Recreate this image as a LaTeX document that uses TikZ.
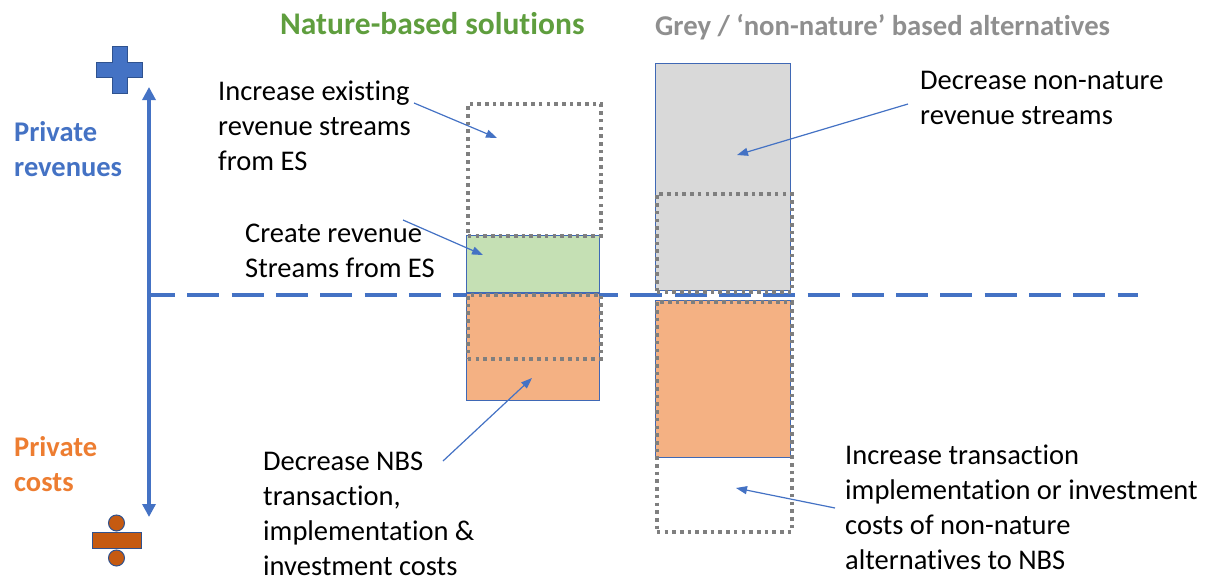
\documentclass[tikz,border=0pt]{standalone}
\usepackage{fontspec}
\setmainfont{Carlito}[Ligatures=NoCommon]
\usetikzlibrary{arrows.meta}
\definecolor{axisblue}{HTML}{4472C4}
\definecolor{edgeblue}{HTML}{3F68B5}
\definecolor{darkedge}{HTML}{2F528F}
\definecolor{nbsgreen}{HTML}{C5E0B4}
\definecolor{costorange}{HTML}{F4B183}
\definecolor{greyfill}{HTML}{D9D9D9}
\definecolor{dotgrey}{HTML}{7F7F7F}
\definecolor{headgreen}{HTML}{5F9E3E}
\definecolor{headgrey}{HTML}{8F8F8F}
\definecolor{revblue}{HTML}{4472C4}
\definecolor{costtext}{HTML}{ED7D31}
\definecolor{divfill}{HTML}{C55A11}
\tikzset{
  lbl/.style={anchor=north west, inner sep=0pt, align=left, font=\fontsize{28.5}{35}\selectfont, text=black},
  head/.style={anchor=north west, inner sep=0pt, font=\fontsize{31.5}{38}\selectfont\bfseries},
  side/.style={anchor=north west, inner sep=0pt, align=left, font=\fontsize{28.5}{35}\selectfont\bfseries},
  solidbox/.style={draw=edgeblue, line width=1.3pt},
  dotbox/.style={draw=dotgrey, line width=3.6pt, dash pattern=on 3.6pt off 4.1pt},
  pointer/.style={draw=axisblue, line width=1.2pt, -{Triangle[length=11pt,width=8pt]}},
  axis/.style={draw=axisblue, line width=3.8pt, {Triangle[length=13pt,width=13pt]}-{Triangle[length=13pt,width=13pt]}},
  zeroline/.style={draw=axisblue, line width=4pt, dash pattern=on 32pt off 12.3pt, dash phase=6pt}
}
\begin{document}
\begin{tikzpicture}[x=1pt,y=-1pt]
\useasboundingbox (0,0) rectangle (1216,579);
% zero line
\coordinate (zl) at (149,295);
\coordinate (zr) at (1138,295);
\draw[zeroline] (zl) -- (zr);
% vertical axis
\coordinate (at) at (149,87);
\coordinate (ab) at (149,517);
\draw[axis] (ab) -- (at);
% plus sign
\draw[fill=axisblue, draw=darkedge, line width=1pt]
  (112,46) -- (127,46) -- (127,62) -- (142,62) -- (142,77) -- (127,77) -- (127,93)
  -- (112,93) -- (112,77) -- (96,77) -- (96,62) -- (112,62) -- cycle;
% divide sign
\draw[fill=divfill, draw=darkedge, line width=1pt] (92,532) rectangle (141,548);
\draw[fill=divfill, draw=darkedge, line width=1pt] (116.5,523) circle (8);
\draw[fill=divfill, draw=darkedge, line width=1pt] (116.5,558) circle (8);
% NBS column
\node[solidbox, fill=costorange, minimum width=133pt, minimum height=107pt, anchor=north west, inner sep=0pt] (nbscost) at (466,293) {};
\node[dotbox, minimum width=133pt, minimum height=64pt, anchor=north west, inner sep=0pt] (nbscostdot) at (466,293) {};
\node[solidbox, fill=nbsgreen, minimum width=133pt, minimum height=57pt, anchor=north west, inner sep=0pt] (nbsnew) at (466,235) {};
\node[dotbox, minimum width=133pt, minimum height=132pt, anchor=north west, inner sep=0pt] (nbsexist) at (466,102) {};
% Grey column
\node[solidbox, fill=greyfill, minimum width=135pt, minimum height=227pt, anchor=north west, inner sep=0pt] (greyrev) at (655,63) {};
\node[dotbox, minimum width=135pt, minimum height=98pt, anchor=north west, inner sep=0pt] (greyrevdot) at (655,192) {};
\node[solidbox, fill=costorange, minimum width=135pt, minimum height=157pt, anchor=north west, inner sep=0pt] (greycost) at (655,300) {};
\node[dotbox, minimum width=135pt, minimum height=230pt, anchor=north west, inner sep=0pt] (greycostdot) at (655,300) {};
% headings
\node[head, text=headgreen] (hnbs) at (280,12.5) {Nature-based solutions};
\node[head, text=headgrey, font=\fontsize{28.7}{35}\selectfont\bfseries] (hgrey) at (655,14) {Grey / ‘non-nature’ based alternatives};
% side labels
\node[side, text=revblue] (prev) at (14,121.5) {Private\\revenues};
\node[side, text=costtext] (pcost) at (14,436.5) {Private\\costs};
% text labels
\node[lbl] (tA) at (218,81) {Increase existing\\revenue streams\\from ES};
\node[lbl] (tB) at (245,223.5) {Create revenue\\Streams from ES};
\node[lbl] (tC) at (263,452) {Decrease NBS\\transaction,\\implementation \&\\investment costs};
\node[lbl] (tD) at (845,444.5) {Increase transaction\\implementation or investment\\costs of non-nature\\alternatives to NBS};
\node[lbl] (tE) at (920,71.5) {Decrease non-nature\\revenue streams};
% pointers
\coordinate (sA) at (414,103);
\coordinate (eA) at (497,138);
\coordinate (sB) at (403,220);
\coordinate (eB) at (483,255);
\coordinate (sC) at (443,461);
\coordinate (eC) at (532,378);
\coordinate (sE) at (908,104);
\coordinate (eE) at (737,155);
\coordinate (sD) at (835,508);
\coordinate (eD) at (736,488);
\draw[pointer] (sA) -- (eA);
\draw[pointer] (sB) -- (eB);
\draw[pointer] (sC) -- (eC);
\draw[pointer] (sE) -- (eE);
\draw[pointer] (sD) -- (eD);
\end{tikzpicture}
\end{document}
